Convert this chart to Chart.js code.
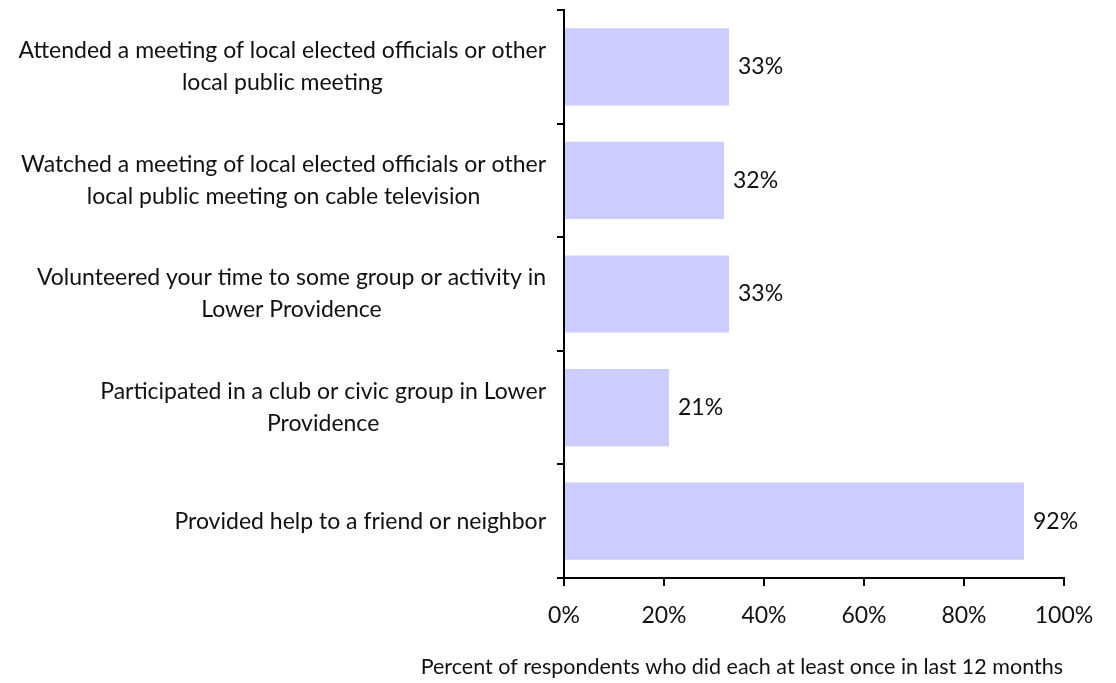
<!DOCTYPE html>
<html><head><meta charset="utf-8">
<script src="https://cdn.jsdelivr.net/npm/chart.js@4/dist/chart.umd.min.js"></script>
<style>html,body{margin:0;padding:0;background:#fff}#wrap{width:1116px;height:683px}</style>
</head><body><div id="wrap"><canvas id="c" width="1116" height="683"></canvas></div>
<script>
const categories = [
  ["Attended a meeting of local elected officials or other", "local public meeting"],
  ["Watched a meeting of local elected officials or other", "local public meeting on cable television"],
  ["Volunteered your time to some group or activity in", "Lower Providence"],
  ["Participated in a club or civic group in Lower", "Providence"],
  ["Provided help to a friend or neighbor"]
];
const values = [33, 32, 33, 21, 92];
const xTicks = [0, 20, 40, 60, 80, 100];
const xTitle = "Percent of respondents who did each at least once in last 12 months";

const FONT = "Lato, 'Open Sans', sans-serif";
const FS = 23;

const labelPlugin = {
  id: 'labels',
  afterDraw(chart) {
    const ctx = chart.ctx;
    const y = chart.scales.y, x = chart.scales.x;
    ctx.save();
    ctx.fillStyle = '#111';
    ctx.font = FS + 'px ' + FONT;
    ctx.textBaseline = 'middle';
    const lh = 32;
    categories.forEach((lines, i) => {
      const cy = y.getPixelForValue(i);
      let maxW = 0;
      lines.forEach(l => { maxW = Math.max(maxW, ctx.measureText(l).width); });
      const cx = 546 - maxW / 2;
      ctx.textAlign = 'center';
      const start = cy - (lines.length - 1) * lh / 2;
      lines.forEach((l, k) => ctx.fillText(l, cx, start + k * lh));
      ctx.textAlign = 'left';
      ctx.fillText(values[i] + '%', x.getPixelForValue(values[i]) + 9, cy);
    });
    ctx.font = '21.5px ' + FONT;
    ctx.textAlign = 'right';
    ctx.fillText(xTitle, x.right - 1, x.bottom - 16);
    ctx.restore();
  }
};

new Chart(document.getElementById('c'), {
  type: 'bar',
  data: {
    labels: categories,
    datasets: [{ data: values, backgroundColor: '#CCCCFF', borderWidth: 0,
      categoryPercentage: 1.0, barPercentage: 0.68 }]
  },
  options: {
    indexAxis: 'y',
    responsive: false,
    animation: false,
    layout: { padding: { top: 10, right: 52, left: 0, bottom: 0 } },
    plugins: { legend: { display: false }, tooltip: { enabled: false } },
    scales: {
      y: {
        afterFit(s) { s.width = 564; },
        ticks: { display: false },
        border: { display: true, color: '#000', width: 2 },
        grid: { display: true, offset: true, drawOnChartArea: false, drawTicks: true, tickLength: 7, color: '#000', lineWidth: 2 }
      },
      x: {
        min: 0, max: 100,
        afterBuildTicks(s) { s.ticks = xTicks.map(v => ({ value: v })); },
        afterFit(s) { s.height = 105; },
        ticks: { callback: v => v + '%', color: '#111', font: { family: FONT, size: FS }, padding: 16, maxRotation: 0 },
        border: { display: true, color: '#000', width: 2 },
        grid: { display: true, drawOnChartArea: false, drawTicks: true, tickLength: 8, color: '#000', lineWidth: 2 },
        title: { display: false }
      }
    }
  },
  plugins: [labelPlugin]
});
</script></body></html>
